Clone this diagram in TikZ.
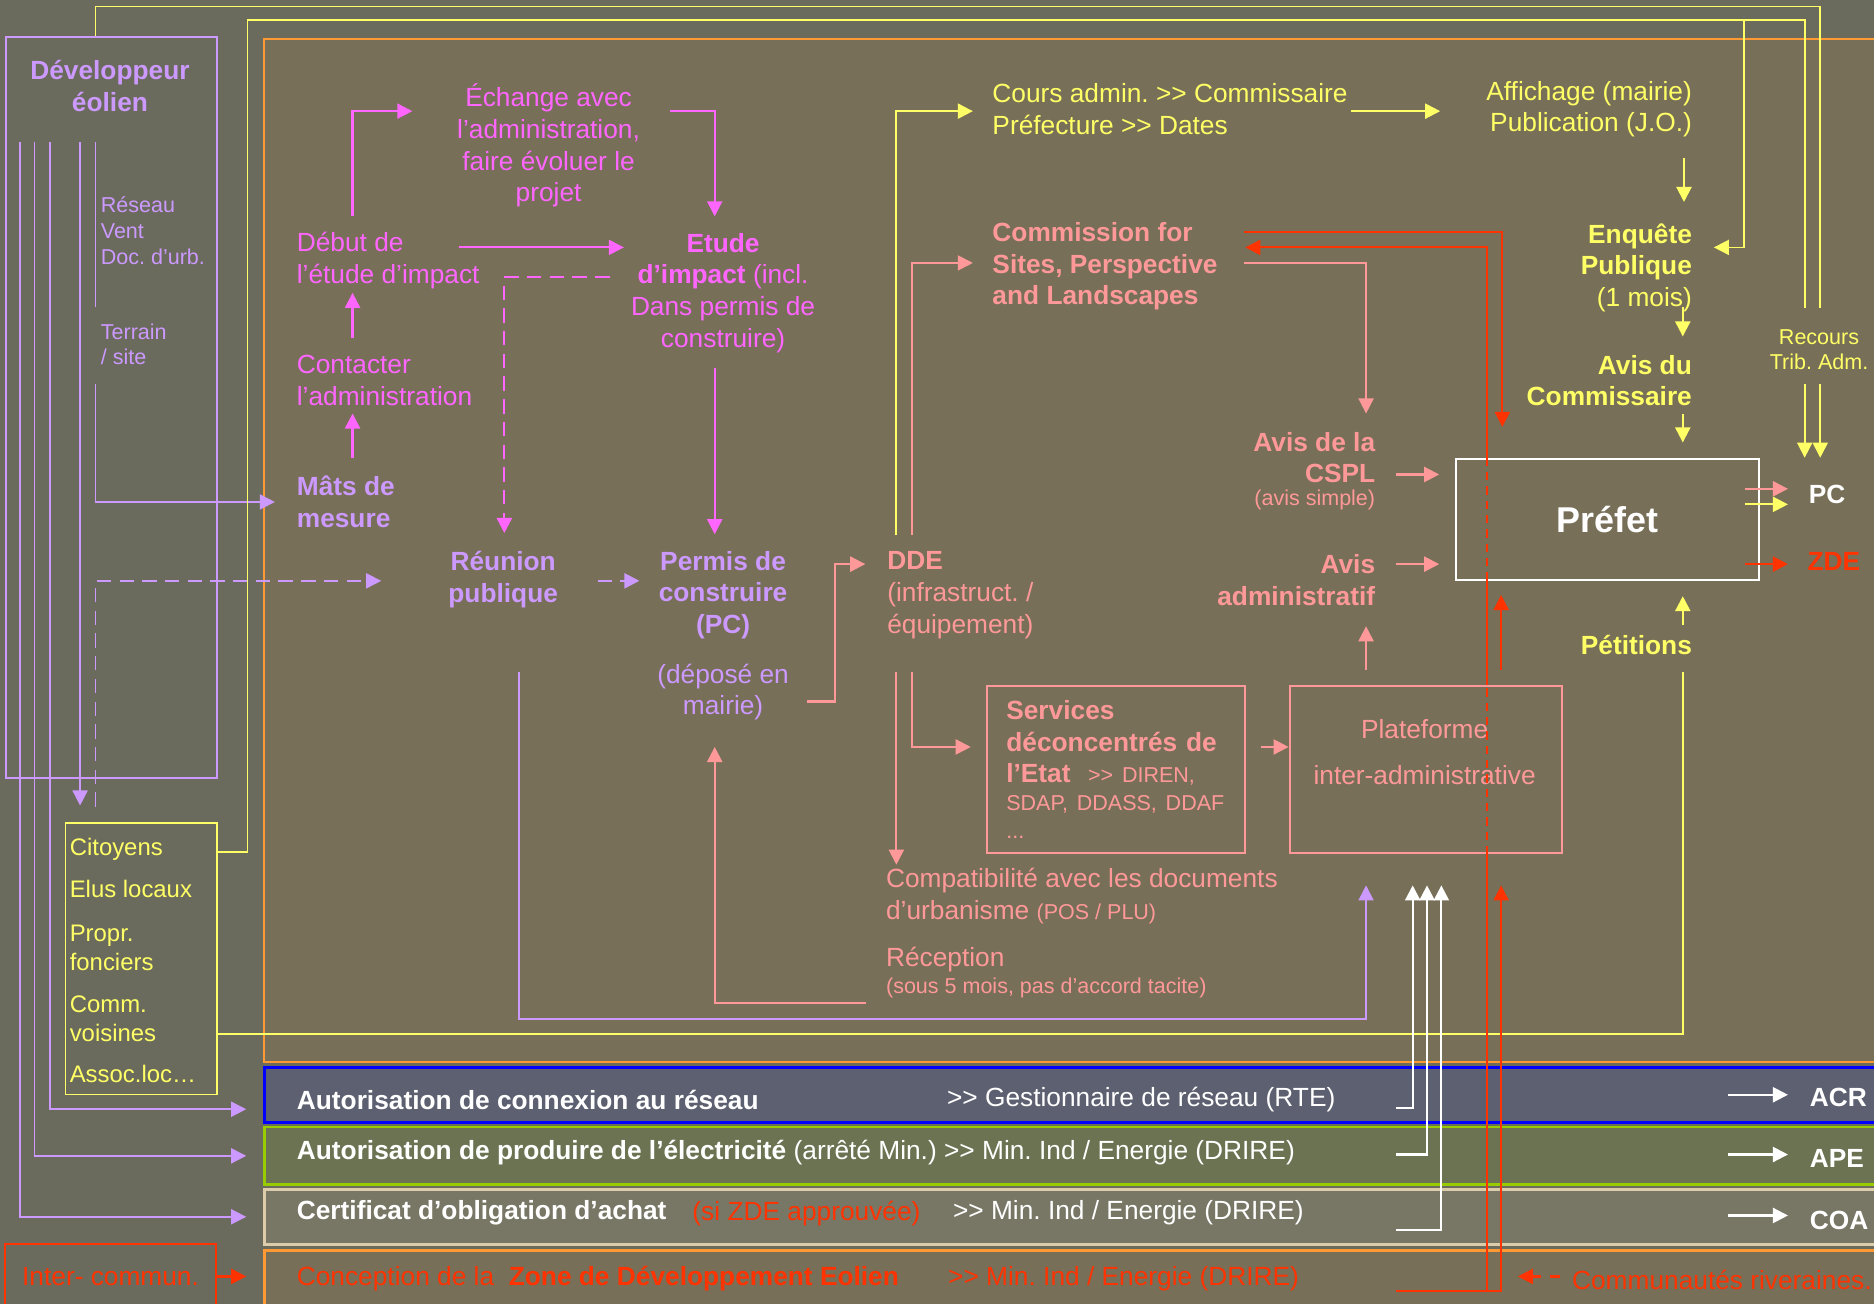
\documentclass[tikz,border=0pt]{standalone}
\usepackage{fontspec}
\setmainfont{Liberation Sans}
\usetikzlibrary{arrows.meta,positioning,calc}
\frenchspacing

\definecolor{bgout}{HTML}{6A6B5C}
\definecolor{bgin}{HTML}{776F58}
\definecolor{lav}{HTML}{CC99FF}
\definecolor{mag}{HTML}{FF66FF}
\definecolor{pk}{HTML}{FF9999}
\definecolor{yel}{HTML}{FFFF66}
\definecolor{rd}{HTML}{FF3300}
\definecolor{org}{HTML}{FF9933}
\definecolor{barblue}{HTML}{5C6070}
\definecolor{bargreen}{HTML}{6C7352}
\definecolor{bargrey}{HTML}{787766}
\definecolor{lineblue}{HTML}{0000FF}
\definecolor{linegreen}{HTML}{99CC00}
\definecolor{linebeige}{HTML}{DDCCAA}

\newcommand{\fnorm}{\fontsize{11}{13.25}\selectfont}
\newcommand{\fsmall}{\fontsize{9}{10.75}\selectfont}
\newcommand{\fcit}{\fontsize{10}{12}\selectfont}
\newcommand{\fbig}{\fontsize{15}{18}\selectfont}
\newcommand{\dgt}{>\kern0pt>}

\tikzset{
  lbl/.style={inner sep=0pt, font=\fnorm},
  boxed/.style={draw=#1, line width=0.8pt, inner sep=0pt},
  band/.style={draw=#1, line width=1.1pt, inner sep=0pt, anchor=north west, minimum width=690pt},
  arw/.style={-{Triangle[length=6.3pt,width=6.3pt]}},
  lw/.style={line width=0.9pt},
  fine/.style={line width=0.7pt},
  dsh/.style={dash pattern=on 6pt off 3.5pt},
  rdsh/.style={dash pattern=on 3.5pt off 2.5pt},
}

\begin{document}
\begin{tikzpicture}[x=0.5pt,y=-0.5pt]
\useasboundingbox (0,0) rectangle (1568,1091);
\clip (0,0) rectangle (1568,1091);
\fill[bgout] (0,0) rectangle (1568,1091);

% frames
\node[boxed=org, fill=bgin, anchor=north west, minimum width=690pt, minimum height=428pt] (main) at (220,32) {};
\node[band=lineblue, fill=barblue, minimum height=23pt] (bar1) at (220,892) {};
\node[band=linegreen, fill=bargreen, minimum height=24pt] (bar2) at (220,942) {};
\node[band=linebeige, fill=bargrey, minimum height=23pt] (bar3) at (220,994) {};
\node[band=org, fill=bgin, minimum height=24pt] (bar4) at (220,1045) {};
\node[boxed=lav, anchor=north west, minimum width=88.5pt, minimum height=310pt] (devbox) at (4,30) {};
\node[boxed=yel, anchor=north west, minimum width=63.5pt, minimum height=113.5pt] (citoy) at (54,688) {};
\node[boxed=rd, text=rd, font=\fnorm, minimum width=88.5pt, minimum height=27pt] (inter) at (92.5,1068) {Inter- commun.};
\node[boxed=white, text=white, font=\fbig\bfseries, minimum width=127pt, minimum height=50.5pt] (prefet) at (1345,434.5) {Préfet};
\node[boxed=pk, text=pk, font=\fnorm, text width=92pt, inner xsep=8pt, align=left, minimum height=70pt] (services) at (934,644)
  {{\bfseries Services}\\{\bfseries déconcentrés de}\\{\bfseries l’Etat}\ \ {\fsmall \dgt{} DIREN,}\\[-1.5pt]{\fsmall SDAP, DDASS, DDAF}\\[-1.5pt]{\fsmall ...}};
\node[boxed=pk, minimum width=114pt, minimum height=70pt] (plat) at (1193,644) {};

% left column
\node[lbl, text=lav, font=\fnorm\bfseries, align=center] (dev) at (92,72) {Développeur\\éolien};
\node[lbl, text=lav, font=\fsmall, align=left, anchor=west] (reseau) at (84,193) {Réseau\\Vent\\Doc. d’urb.};
\node[lbl, text=lav, font=\fsmall, align=left, anchor=west] (terrain) at (84,288) {Terrain\\/ site};
\node[lbl, text=yel, font=\fcit, align=left, anchor=west] (citoytxt) at (58,804)
  {Citoyens\\[5.5pt]Elus locaux\\[6.5pt]Propr.\\fonciers\\[5.5pt]Comm.\\voisines\\[5.5pt]Assoc.loc…};

% study column
\node[lbl, text=mag, align=center] (echange) at (459,122) {Échange avec\\l’administration,\\faire évoluer le\\projet};
\node[lbl, text=mag, align=left, anchor=west] (debut) at (248,218) {Début de\\l’étude d’impact};
\node[lbl, text=mag, align=left, anchor=west] (contact) at (248,318.5) {Contacter\\l’administration};
\node[lbl, text=lav, font=\fnorm\bfseries, align=left, anchor=west] (mats) at (248,420) {Mâts de\\mesure};
\node[lbl, text=mag, align=center] (etude) at (605,245) {\textbf{Etude}\\\textbf{d’impact} (incl.\\Dans permis de\\construire)};
\node[lbl, text=lav, font=\fnorm\bfseries, align=center] (reunion) at (421,485) {Réunion\\publique};
\node[lbl, text=lav, font=\fnorm\bfseries, align=center] (permis) at (605,498) {Permis de\\construire\\(PC)};
\node[lbl, text=lav, align=center] (depose) at (605,579) {(déposé en\\mairie)};

% administration
\node[lbl, text=pk, align=left, anchor=west] (dde) at (742,498) {\textbf{DDE}\\(infrastruct. /\\équipement)};
\node[lbl, text=yel, align=left, anchor=west] (cours) at (830,91.5) {Cours admin. \dgt{} Commissaire\\Préfecture \dgt{} Dates};
\node[lbl, text=yel, align=right, anchor=east] (affich) at (1416,91.5) {Affichage (mairie)\\Publication (J.O.)};
\node[lbl, text=pk, font=\fnorm\bfseries, align=left, anchor=west] (commis) at (830,223) {Commission for\\Sites, Perspective\\and Landscapes};
\node[lbl, text=yel, align=right, anchor=east] (enquete) at (1416,224) {\textbf{Enquête}\\\textbf{Publique}\\(1 mois)};
\node[lbl, text=yel, font=\fnorm\bfseries, align=right, anchor=east] (aviscom) at (1416,318.5) {Avis du\\Commissaire};
\node[lbl, text=yel, font=\fsmall, align=center] (recours) at (1522,292.5) {Recours\\Trib. Adm.};
\node[lbl, text=pk, font=\fnorm\bfseries, align=right, anchor=east] (cspl) at (1151,383) {Avis de la\\CSPL};
\node[lbl, text=pk, font=\fsmall, anchor=east] (cspls) at (1151,418) {(avis simple)};
\node[lbl, text=pk, font=\fnorm\bfseries, align=right, anchor=east] (avisadm) at (1151,485.5) {Avis\\administratif};
\node[lbl, text=yel, font=\fnorm\bfseries, anchor=east] (petit) at (1416,540) {Pétitions};
\node[lbl, text=white, font=\fnorm\bfseries, anchor=west] (pc) at (1513,414) {PC};
\node[lbl, text=rd, font=\fnorm\bfseries, anchor=west] (zde) at (1512,470) {ZDE};
\node[lbl, text=pk, align=center] (plattxt) at (1192,629) {Plateforme\\[6pt]inter-administrative};
\node[lbl, text=pk, align=left, anchor=west] (compat) at (741,749.5) {Compatibilité avec les documents\\d’urbanisme {\fsmall (POS / PLU)}};
\node[lbl, text=pk, anchor=west] (recep) at (741,803) {Réception};
\node[lbl, text=pk, font=\fsmall, anchor=west] (recepsub) at (741,827) {(sous 5 mois, pas d’accord tacite)};

% bands
\node[lbl, text=white, font=\fnorm\bfseries, anchor=west] (t1) at (248,920) {Autorisation de connexion au réseau};
\node[lbl, text=white, anchor=west] (t1b) at (792,920) {\dgt{}\ Gestionnaire de réseau (RTE)};
\node[lbl, text=white, anchor=west] (t2) at (248,964) {\textbf{Autorisation de produire de l’électricité} (arrêté Min.) \dgt{} Min. Ind / Energie (DRIRE)};
\node[lbl, text=white, font=\fnorm\bfseries, anchor=west] (t3) at (248,1015) {Certificat d’obligation d’achat};
\node[lbl, text=rd, anchor=west] (t3r) at (579,1015) {(si ZDE approuvée)};
\node[lbl, text=white, anchor=west] (t3b) at (797,1015) {\dgt{} Min. Ind / Energie (DRIRE)};
\node[lbl, text=rd, anchor=west] (t4) at (248,1070) {Conception de la \ \textbf{Zone de Développement Eolien}};
\node[lbl, text=rd, anchor=west] (t4b) at (793,1070) {\dgt{} Min. Ind / Energie (DRIRE)};
\node[lbl, text=white, font=\fnorm\bfseries, anchor=west] (acr) at (1514,918) {ACR};
\node[lbl, text=white, font=\fnorm\bfseries, anchor=west] (ape) at (1514,969) {APE};
\node[lbl, text=white, font=\fnorm\bfseries, anchor=west] (coa) at (1514,1021) {COA};
\node[lbl, text=rd, anchor=west] (comm) at (1315,1071) {Communautés riveraines.};

% developer links
\draw[lav, fine, arw, shorten >=7pt] ($(devbox.north west)+(12.5,89)$) |- (bar3.west);
\draw[lav, fine, arw, shorten >=7pt] ($(devbox.north west)+(25,89)$) |- (bar2.west);
\draw[lav, fine, arw, shorten >=7pt] ($(devbox.north west)+(38,89)$) |- ($(bar1.west)+(0,12)$);
\draw[lav, fine, arw, shorten >=7pt] ($(devbox.north west)+(63,89)$) -- ($(citoy.north west)+(13,0)$);
\draw[lav, fine] ($(devbox.north west)+(76,89)$) -- ($(devbox.north west)+(76,227)$);
\draw[lav, fine, arw, shorten >=9pt] ($(devbox.north west)+(76,291)$) |- (mats.west);
\draw[lav, fine, dsh, arw] ($(citoy.north west)+(26,-13)$) |- ($(reunion.center)+(-102,1)$);
\draw[lav, lw, dsh, arw] ($(reunion.center)+(79,1)$) -- ($(permis.center)+(-70,-12)$);
\draw[lav, fine, arw] ($(reunion.center)+(13,77)$) |- ($(plat.south)+(-50,138)$) -- ($(plat.south)+(-50,26)$);

% study steps
\draw[mag, lw, arw] ($(debut.west)+(47,-37)$) |- ($(echange.center)+(-114,-29)$);
\draw[mag, lw, arw] ($(echange.center)+(102,-29)$) -| ($(etude.center)+(-7,-64)$);
\draw[mag, lw, arw] ($(debut.west)+(136,-11)$) -- ($(etude.center)+(-83,-38)$);
\draw[mag, lw, dsh, arw] ($(etude.center)+(-95,-13)$) -| ($(reunion.center)+(1,-39)$);
\draw[mag, lw, arw] ($(etude.center)+(-7,63)$) -- ($(permis.center)+(-7,-51)$);
\draw[mag, lw, arw] ($(contact.west)+(47,-35.5)$) -- ($(debut.west)+(47,27)$);
\draw[mag, lw, arw] ($(mats.west)+(47,-37)$) -- ($(contact.west)+(47,27.5)$);

% yellow public side
\draw[yel, fine] ($(devbox.north west)+(76,0)$) |- ($(recours.center)+(1,-287)$) -- ($(recours.center)+(1,-35)$);
\draw[yel, fine, arw] ($(recours.center)+(1,29)$) -- ($(pc.west)+(10,-31)$);
\draw[yel, fine] ($(citoy.north east)+(0,25)$) -| ($(main.north west)+(-13,-15)$) -| ($(recours.center)+(-12,-35)$);
\draw[yel, fine, arw] ($(recours.center)+(-12,29)$) -- ($(pc.west)+(-3,-31)$);
\draw[yel, fine, arw] ($(main.north west)+(1239,-15)$) |- ($(enquete.east)+(18,-17)$);
\draw[yel, fine] ($(citoy.north east)+(0,177)$) -| ($(petit.east)+(-8,22)$);
\draw[yel, lw, arw] ($(petit.east)+(-8,-17)$) -- ($(prefet.south)+(63,13)$);
\draw[yel, lw, arw] ($(affich.east)+(-7,41)$) -- ($(enquete.east)+(-7,-55)$);
\draw[yel, lw, arw] ($(enquete.east)+(-8,33)$) -- ($(aviscom.east)+(-8,-37)$);
\draw[yel, lw, arw] ($(aviscom.east)+(-8,28)$) -- ($(prefet.north)+(63,-13)$);
\draw[yel, lw, arw] ($(cours.west)+(300,1.5)$) -- ($(affich.east)+(-211,1.5)$);
\draw[yel, lw, arw] ($(dde.west)+(8,-50)$) |- ($(cours.west)+(-16,1.5)$);
\draw[yel, lw, arw] ($(prefet.east)+(-13,-12.5)$) -- ($(pc.west)+(-17,8)$);

% pink administration
\draw[pk, lw, arw] ($(prefet.east)+(-13,-25.5)$) -- ($(pc.west)+(-17,-5)$);
\draw[pk, lw, arw] ($(cspl.east)+(17,14)$) -- ($(prefet.west)+(-13,-37.5)$);
\draw[pk, lw, arw] ($(avisadm.east)+(17,-13.5)$) -- ($(prefet.west)+(-13,37.5)$);
\draw[pk, lw, arw] ($(plat.north)+(-50,-13)$) -- ($(avisadm.east)+(-8,38.5)$);
\draw[pk, fine, arw] ($(commis.west)+(211,-3)$) -| ($(cspl.east)+(-8,-37)$);
\draw[pk, fine, arw] ($(dde.west)+(21,-50)$) |- ($(commis.west)+(-16,-3)$);
\draw[pk, lw, arw] ($(depose.center)+(70,8)$) -| ($(dde.west)+(-43,-26)$) -- ($(dde.west)+(-18,-26)$);
\draw[pk, lw, arw] ($(dde.west)+(8,64)$) -- ($(compat.west)+(9,-26)$);
\draw[pk, lw, arw] ($(dde.west)+(21,64)$) |- ($(services.west)+(-13,-19)$);
\draw[pk, lw, arw] ($(services.east)+(12,-19)$) -- ($(plat.west)+(0,-19)$);
\draw[pk, lw, arw] ($(recepsub.west)+(-16,12)$) -| ($(depose.center)+(-7,46)$);

% red ZDE side
\draw[rd, lw, arw] ($(bar4.north west)+(948,35)$) -| ($(plat.south)+(63,26)$);
\draw[rd, lw] ($(bar4.north west)+(1024,35)$) -- ($(plat.south)+(51,0)$);
\draw[rd, lw, rdsh] ($(plat.south)+(51,0)$) -- ($(plat.north)+(51,0)$);
\draw[rd, lw] ($(plat.north)+(51,0)$) -- ($(prefet.south)+(-101,0)$);
\draw[rd, lw, rdsh] ($(prefet.south)+(-101,0)$) -- ($(prefet.north)+(-101,0)$);
\draw[rd, lw, arw] ($(prefet.north)+(-101,0)$) |- ($(commis.west)+(212,-16)$);
\draw[rd, lw, arw] ($(plat.north)+(63,-13)$) -- ($(prefet.south)+(-89,12)$);
\draw[rd, lw, arw] ($(commis.west)+(211,-29)$) -| ($(prefet.north)+(-88,-26)$);
\draw[rd, lw, arw] ($(prefet.east)+(-13,37.5)$) -- ($(zde.west)+(-16,2)$);
\draw[rd, lw, arw] (inter.east) -- ($(bar4.north west)+(-14,23)$);
\draw[rd, lw, arw, dash pattern=on 4pt off 4pt] ($(comm.west)+(-10,-3)$) -- ($(comm.west)+(-45,-3)$);

% white band links
\draw[white, lw, arw] ($(bar1.north west)+(948,35)$) -| ($(plat.south)+(-11,26)$);
\draw[white, lw, arw] ($(bar2.north west)+(948,24)$) -| ($(plat.south)+(1,26)$);
\draw[white, lw, arw] ($(bar3.north west)+(948,35)$) -| ($(plat.south)+(13,26)$);
\draw[white, lw, arw] ($(acr.west)+(-68,-2)$) -- ($(acr.west)+(-18,-2)$);
\draw[white, lw, arw] ($(ape.west)+(-68,-3)$) -- ($(ape.west)+(-18,-3)$);
\draw[white, lw, arw] ($(coa.west)+(-68,-4)$) -- ($(coa.west)+(-18,-4)$);
\end{tikzpicture}
\end{document}
